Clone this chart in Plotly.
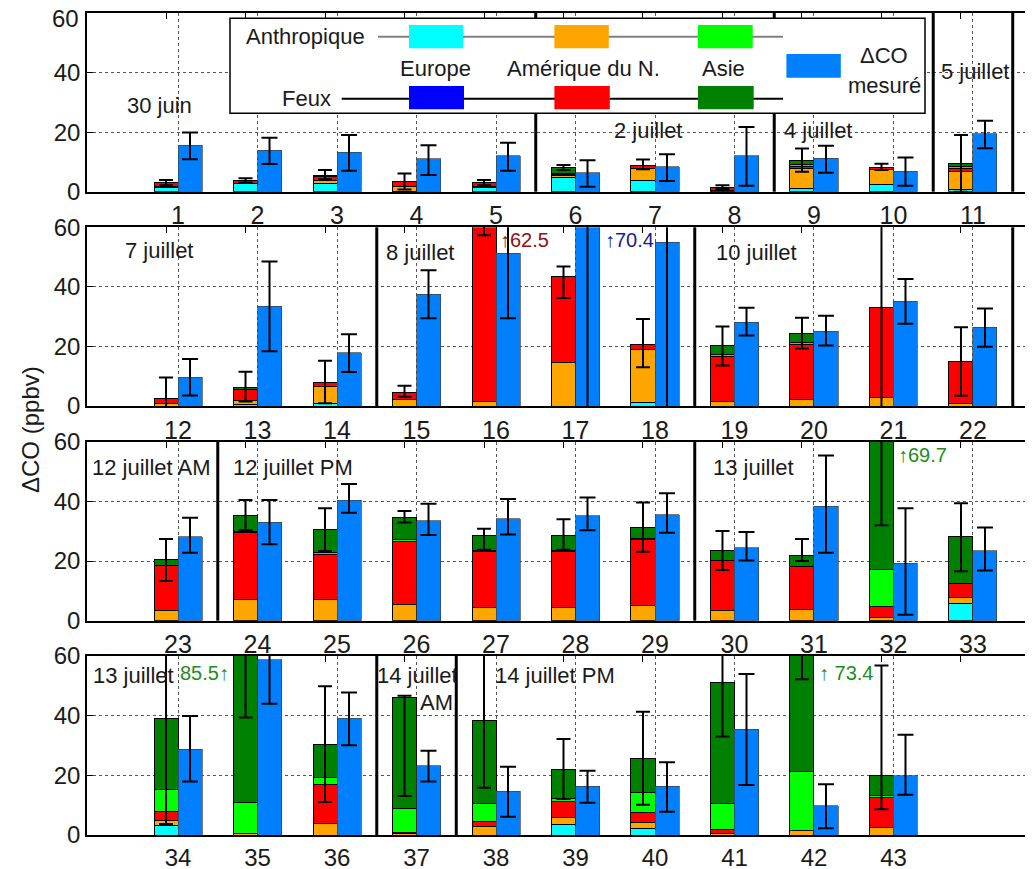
import plotly.graph_objects as go

# ---------------- data ----------------
item_numbers = list(range(1, 45))
panel_items = [list(range(1, 12)), list(range(12, 23)), list(range(23, 34)), list(range(34, 45))]
tick_text = [str(i) for i in range(1, 44)] + [""]
y_ticks = [0, 20, 40, 60]

# model contributions (ppbv), items 1..44
anthro_europe = [1.5, 2.6, 2.6, 0.2, 1.5, 4.7, 3.6, 0, 1.0, 2.5, 0.8,
                 0, 0.6, 0.9, 0, 0, 0, 1.1, 0, 0, 0, 0,
                 0, 0, 0, 0, 0, 0, 0, 0, 0, 0, 5.6,
                 3.2, 0, 0, 0, 0, 3.6, 2.2, 0, 0, 0, 0]
fire_europe = [0, 0, 0, 0, 0, 0, 0, 0, 0, 0, 0,
               0, 0, 0, 0, 0, 0, 0, 0, 0, 0, 0,
               0, 0, 0, 0, 0, 0, 0, 0, 0, 0, 0,
               0, 0, 0, 0, 0, 0, 0, 0, 0, 0, 0]
anthro_america = [0.3, 0.2, 1.1, 1.6, 0.3, 0.6, 4.2, 0.3, 6.8, 4.8, 6.1,
                  0.7, 1.1, 5.8, 2.2, 1.5, 14.6, 17.9, 1.6, 2.3, 2.7, 0.7,
                  3.4, 7.2, 7.2, 5.5, 4.4, 4.5, 5.1, 3.5, 3.9, 1.1, 2.2,
                  1.7, 0.5, 3.8, 0.4, 2.8, 2.2, 1.9, 0.6, 1.5, 2.5, 0]
fire_america = [1.2, 1.1, 1.3, 1.6, 1.2, 0.6, 1.1, 1.15, 0.8, 0.9, 1.0,
                1.8, 3.7, 1.1, 2.5, 61.0, 29.0, 1.8, 14.9, 18.5, 30.4, 14.2,
                15.2, 22.3, 15.1, 21.2, 18.8, 18.6, 22.2, 16.6, 14.3, 3.8, 4.7,
                2.9, 0, 13.1, 0.3, 1.7, 5.3, 3.5, 1.1, 0, 10.0, 0]
anthro_asia = [0, 0, 0, 0, 0, 0.3, 0, 0, 0.4, 0, 0.4,
               0, 0, 0, 0, 0, 0, 0, 0.8, 0.6, 0, 0,
               0, 0.5, 0.5, 0.6, 0.5, 0.4, 0.4, 0, 0, 12.4, 0,
               7.4, 10.5, 2.3, 8.2, 6.1, 1.2, 6.6, 8.8, 19.7, 0.9, 0]
fire_asia = [0, 0, 0.6, 0, 0, 2.0, 0, 0, 1.5, 0, 1.2,
             0, 0.9, 0, 0, 0, 0, 0, 2.9, 3.1, 0, 0,
             1.9, 5.4, 7.7, 7.4, 5.0, 5.1, 3.5, 3.4, 3.7, 52.4, 15.7,
             23.9, 74.5, 11.3, 37.2, 27.8, 9.8, 11.5, 40.6, 52.2, 6.5, 0]
# model uncertainty range (lower, upper bound of the error bar)
model_err_low = [2.2, 3.1, 4.2, 0.7, 2.2, 7.3, 7.5, 0.9, 6.7, 7.3, 0.0,
                 -4.6, 1.5, 0.9, 3.1, 57.3, 36.3, 13.0, 13.6, 19.3, -2.0, 3.4,
                 13.3, 30.3, 23.4, 32.9, 23.8, 23.8, 23.1, 17.0, 20.0, 32.0, 16.6,
                 3.7, 39.4, 11.1, 13.1, 15.8, 12.1, 10.1, 33.0, 52.2, 8.6, None]
model_err_high = [3.9, 4.5, 7.3, 6.1, 3.9, 9.0, 10.8, 2.2, 14.5, 9.4, 19.0,
                  9.6, 11.5, 15.2, 6.8, 67.7, 46.8, 29.2, 26.7, 29.6, 68.0, 26.4,
                  27.4, 40.5, 37.7, 36.8, 30.8, 34.0, 39.6, 30.1, 27.4, 107.4, 39.4,
                  74.5, 131.6, 49.9, 46.7, 61.0, 32.2, 41.3, 69.2, 94.6, 56.8, None]
# measured Delta CO (ppbv)
measured = [15.6, 14.0, 13.2, 11.0, 12.0, 6.3, 8.3, 12.0, 11.3, 6.9, 19.4,
            9.6, 33.5, 17.8, 37.5, 51.3, 70.4, 55.0, 28.2, 25.1, 35.2, 26.4,
            28.2, 33.0, 40.3, 33.5, 34.2, 35.2, 35.5, 24.4, 38.4, 19.2, 23.4,
            28.7, 58.7, 39.2, 23.2, 14.7, 16.3, 16.3, 35.5, 9.8, 19.9, None]
meas_err_low = [10.9, 9.3, 7.0, 5.6, 7.0, 1.7, 3.6, 2.0, 6.4, 2.0, 14.6,
                3.5, 18.4, 11.4, 29.5, 29.5, -2.0, -2.0, 23.7, 20.3, 27.6, 19.9,
                22.8, 25.6, 36.2, 28.7, 28.9, 30.3, 29.5, 20.2, 22.8, 2.0, 16.8,
                17.9, 44.0, 30.1, 17.9, 6.1, 10.8, 7.8, 16.8, 2.3, 13.5, None]
meas_err_high = [19.9, 18.1, 19.0, 15.6, 16.4, 10.6, 12.6, 21.7, 15.4, 11.5, 23.8,
                 15.8, 48.5, 24.1, 45.6, 73.1, 142.0, 112.0, 33.0, 30.3, 42.6, 32.7,
                 34.5, 40.5, 45.8, 39.2, 40.8, 41.3, 42.7, 29.7, 55.4, 37.7, 31.2,
                 39.9, 73.4, 47.8, 28.2, 22.9, 21.5, 24.4, 54.0, 17.0, 33.6, None]

# date groups: a separator is drawn after these items
separators_after = [[5, 8, 10, 11], [14, 18, 22], [23, 29], [36, 37]]
group_labels = [
    [("30 juin", 0.33, 29.0), ("2 juillet", 6.46, 20.7), ("4 juillet", 8.60, 20.7), ("5 juillet", 10.57, 40.2)],
    [("7 juillet", 0.31, 52.3), ("8 juillet", 3.59, 51.7), ("10 juillet", 7.74, 51.7)],
    [("12 juillet AM", -0.11, 51.4), ("12 juillet PM", 1.67, 51.4), ("13 juillet", 7.70, 51.4)],
    [("13 juillet", -0.09, 53.6), ("14 juillet", 3.48, 53.6), ("14 juillet PM", 4.96, 53.6)],
]
# off-scale values
offscale_items = [16, 17, 32, 35, 42]
offscale_values = [62.5, 70.4, 69.7, 85.5, 73.4]
offscale_series = ["model", "measured", "model", "model", "model"]
offscale_colors = ["#8B1010", "#1A1A8C", "#1E8C1E", "#1E8C1E", "#1E8C1E"]

# ---------------- styling / geometry ----------------
PAGE_OFF = 8                      # default body margin of the html page
W, H = 1025, 861
ML, MR, MT, MB = 79, 0, 5, 34
PW, PH = W - ML - MR, H - MT - MB
FONT = "Liberation Sans, Arial, Helvetica, sans-serif"
TXT = "#1a1a1a"
OFF, BW = 0.151, 0.302
XR = [-0.145, 11.755]
panel_px = [(13, 191.7), (227.3, 406.0), (441.7, 620.7), (656.0, 835.0)]   # page pixels

comp_names = ["Anthropique Europe", "Feux Europe", "Anthropique Amérique du N.",
              "Feux Amérique du N.", "Anthropique Asie", "Feux Asie"]
comp_data = [anthro_europe, fire_europe, anthro_america, fire_america, anthro_asia, fire_asia]
comp_colors = ["#00FFFF", "#0000FF", "#FFA500", "#FF0000", "#00FF00", "#008000"]
MEAS_COLOR = "#0080FF"


def px_x(px):
    return (px - PAGE_OFF - ML) / PW


def px_y(py):
    return (H - MB - (py - PAGE_OFF)) / PH


fig = go.Figure()
layout_axes = {}
shapes = []
annotations = []
lab_font = dict(family=FONT, size=22, color=TXT)
ytick_font = dict(family=FONT, size=24, color=TXT)

for k, its in enumerate(panel_items):
    n = k + 1
    xa = "x" if n == 1 else f"x{n}"
    ya = "y" if n == 1 else f"y{n}"
    idx = [i - 1 for i in its]
    pos = list(range(1, len(its) + 1))
    xm = [p - OFF for p in pos]
    xs = [p + OFF for p in pos]

    for name, data, col in zip(comp_names, comp_data, comp_colors):
        fig.add_trace(go.Bar(
            x=xm, y=[data[i] for i in idx], width=BW, name=name,
            marker=dict(color=col, line=dict(color="black", width=1)),
            xaxis=xa, yaxis=ya, showlegend=False, hoverinfo="skip"))
    fig.add_trace(go.Bar(
        x=xs, y=[measured[i] for i in idx], width=BW, name="ΔCO mesuré",
        marker=dict(color=MEAS_COLOR, line=dict(color="#404040", width=0.7)),
        xaxis=xa, yaxis=ya, showlegend=False, hoverinfo="skip"))

    totals = []
    for i in idx:
        totals.append(sum(c[i] for c in comp_data) if model_err_low[i] is not None else None)
    m_plus = [(model_err_high[i] - t) if t is not None else None for i, t in zip(idx, totals)]
    m_minus = [(t - model_err_low[i]) if t is not None else None for i, t in zip(idx, totals)]
    fig.add_trace(go.Scatter(
        x=xm, y=totals, mode="markers", marker=dict(size=1, opacity=0),
        error_y=dict(type="data", symmetric=False, array=m_plus, arrayminus=m_minus,
                     color="black", thickness=2, width=7),
        xaxis=xa, yaxis=ya, showlegend=False, hoverinfo="skip"))
    meas = [measured[i] for i in idx]
    s_plus = [(meas_err_high[i] - measured[i]) if measured[i] is not None else None for i in idx]
    s_minus = [(measured[i] - meas_err_low[i]) if measured[i] is not None else None for i in idx]
    fig.add_trace(go.Scatter(
        x=xs, y=meas, mode="markers", marker=dict(size=1, opacity=0),
        error_y=dict(type="data", symmetric=False, array=s_plus, arrayminus=s_minus,
                     color="black", thickness=2, width=8),
        xaxis=xa, yaxis=ya, showlegend=False, hoverinfo="skip"))

    top, bot = panel_px[k]
    labelled = [p for p, i in zip(pos, its) if tick_text[i - 1] != ""]
    last = (k == len(panel_items) - 1)
    layout_axes["xaxis" if n == 1 else f"xaxis{n}"] = dict(
        domain=[0, 1], anchor=ya, range=XR, automargin=False, ticklabeloverflow="allow",
        tickmode="array", tickvals=labelled,
        ticktext=[tick_text[its[p - 1] - 1] for p in labelled],
        showgrid=True, griddash="dot", gridcolor="#555555", gridwidth=1,
        showline=True, mirror=True, linecolor="black", linewidth=1.5,
        ticks="", zeroline=False, ticklabelstandoff=0 if last else 1,
        tickfont=dict(family=FONT, size=24 if last else 25, color=TXT))
    # the top label of the first panel sits at the page edge: written as text, nudged down
    shown = y_ticks[:-1] if k == 0 else y_ticks
    layout_axes["yaxis" if n == 1 else f"yaxis{n}"] = dict(
        domain=[px_y(bot), px_y(top)], anchor=xa, range=[0, 60],
        automargin=False, ticklabeloverflow="allow",
        tickmode="array", tickvals=y_ticks,
        ticktext=[str(v) if v in shown else "" for v in y_ticks],
        showgrid=True, griddash="dot", gridcolor="#555555", gridwidth=1,
        showline=True, mirror="ticks", linecolor="black", linewidth=1.5,
        ticks="inside", ticklen=6, tickcolor="black", tickwidth=1, zeroline=False,
        tickfont=ytick_font)
    if k == 0:
        annotations.append(dict(text=str(y_ticks[-1]), xref="paper", yref=ya, x=px_x(81),
                                y=y_ticks[-1], yshift=-5, xanchor="right", yanchor="middle",
                                showarrow=False, font=ytick_font))
    # top tick marks at model-bar centres
    ov = f"xaxis{n + 4}"
    layout_axes[ov] = dict(
        overlaying=xa, anchor=ya, side="top", range=XR, automargin=False,
        tickmode="array", tickvals=xm, showticklabels=False,
        ticks="inside", ticklen=6, tickcolor="black", tickwidth=1,
        showgrid=False, showline=False, zeroline=False)
    fig.add_trace(go.Scatter(x=[None], y=[None], xaxis=f"x{n + 4}", yaxis=ya,
                             showlegend=False, hoverinfo="skip"))

    # date separators
    for it in separators_after[k]:
        sx = its.index(it) + 1 + 0.5
        shapes.append(dict(type="line", xref=xa, yref=f"{ya} domain", x0=sx, x1=sx,
                           y0=0, y1=1, line=dict(color="black", width=3), layer="above"))
    # date labels
    for text, ux, uy in group_labels[k]:
        annotations.append(dict(text=text, xref=xa, yref=ya, x=ux, y=uy, xanchor="left",
                                yanchor="middle", showarrow=False, font=lab_font))
    if k == 3:
        annotations.append(dict(text="AM", xref=xa, yref=ya, x=4.48, y=44.5, xanchor="right",
                                yanchor="middle", showarrow=False, font=lab_font))
    # off-scale values
    for it, val, ser, col in zip(offscale_items, offscale_values, offscale_series, offscale_colors):
        if it in its:
            p = its.index(it) + 1
            if ser == "measured":
                x0, anchor, text = p + OFF + BW / 2 + 0.05, "left", f"↑{val}"
            elif it == 35:
                x0, anchor, text = p - OFF - BW / 2 - 0.03, "right", f"{val}↑"
            elif it == 42:
                x0, anchor, text = p + 0.04, "left", f"↑ {val}"
            else:
                x0, anchor, text = p + 0.03, "left", f"↑{val}"
            annotations.append(dict(text=text, xref=xa, yref=ya, x=x0,
                                    y=55.6 if k < 3 else 54.3, xanchor=anchor,
                                    yanchor="middle", showarrow=False,
                                    font=dict(family=FONT, size=20, color=col)))

# ---------------- legend box (drawn in panel 1) ----------------
shapes.append(dict(type="rect", xref="paper", yref="paper", x0=px_x(230), x1=px_x(925),
                   y0=px_y(113.3), y1=px_y(18.3), line=dict(color="black", width=1.5),
                   fillcolor="white", layer="above"))
shapes.append(dict(type="line", xref="paper", yref="paper", x0=px_x(378), x1=px_x(783),
                   y0=px_y(36.7), y1=px_y(36.7), line=dict(color="#808080", width=2), layer="above"))
shapes.append(dict(type="line", xref="paper", yref="paper", x0=px_x(341.7), x1=px_x(783),
                   y0=px_y(98.7), y1=px_y(98.7), line=dict(color="black", width=2), layer="above"))
leg_cols_x = [(409, 463), (554.4, 608.8), (698, 752.7)]
for j, (a, b) in enumerate(leg_cols_x):
    shapes.append(dict(type="rect", xref="paper", yref="paper", x0=px_x(a), x1=px_x(b),
                       y0=px_y(48.3), y1=px_y(25), line=dict(width=0),
                       fillcolor=comp_colors[2 * j], layer="above"))
    shapes.append(dict(type="rect", xref="paper", yref="paper", x0=px_x(a), x1=px_x(b + 1),
                       y0=px_y(109.3), y1=px_y(86), line=dict(width=0),
                       fillcolor=comp_colors[2 * j + 1], layer="above"))
shapes.append(dict(type="rect", xref="paper", yref="paper", x0=px_x(786.4), x1=px_x(840.8),
                   y0=px_y(77.7), y1=px_y(54), line=dict(width=0), fillcolor=MEAS_COLOR,
                   layer="above"))
leg_font = dict(family=FONT, size=22, color=TXT)
for text, x, y, anc in [("Anthropique", 367, 36.7, "right"), ("Feux", 333, 98.7, "right"),
                        ("Europe", 435, 68.3, "center"), ("Amérique du N.", 583, 68.3, "center"),
                        ("Asie", 723, 68.3, "center"), ("ΔCO", 884, 56, "center"),
                        ("mesuré", 884, 85, "center")]:
    annotations.append(dict(text=text, xref="paper", yref="paper", x=px_x(x), y=px_y(y),
                            xanchor=anc, yanchor="middle", showarrow=False, font=leg_font))

# y-axis title
annotations.append(dict(text="ΔCO (ppbv)", xref="paper", yref="paper", x=px_x(30), y=px_y(430),
                        xanchor="center", yanchor="middle", textangle=-90, showarrow=False,
                        font=dict(family=FONT, size=24, color=TXT)))

fig.update_layout(
    width=W, height=H, autosize=False,
    margin=dict(l=ML, r=MR, t=MT, b=MB, pad=0, autoexpand=False),
    barmode="stack", plot_bgcolor="white", paper_bgcolor="white",
    showlegend=False, shapes=shapes, annotations=annotations,
    font=dict(family=FONT, color=TXT),
    **layout_axes)

fig.write_html("out.html")
